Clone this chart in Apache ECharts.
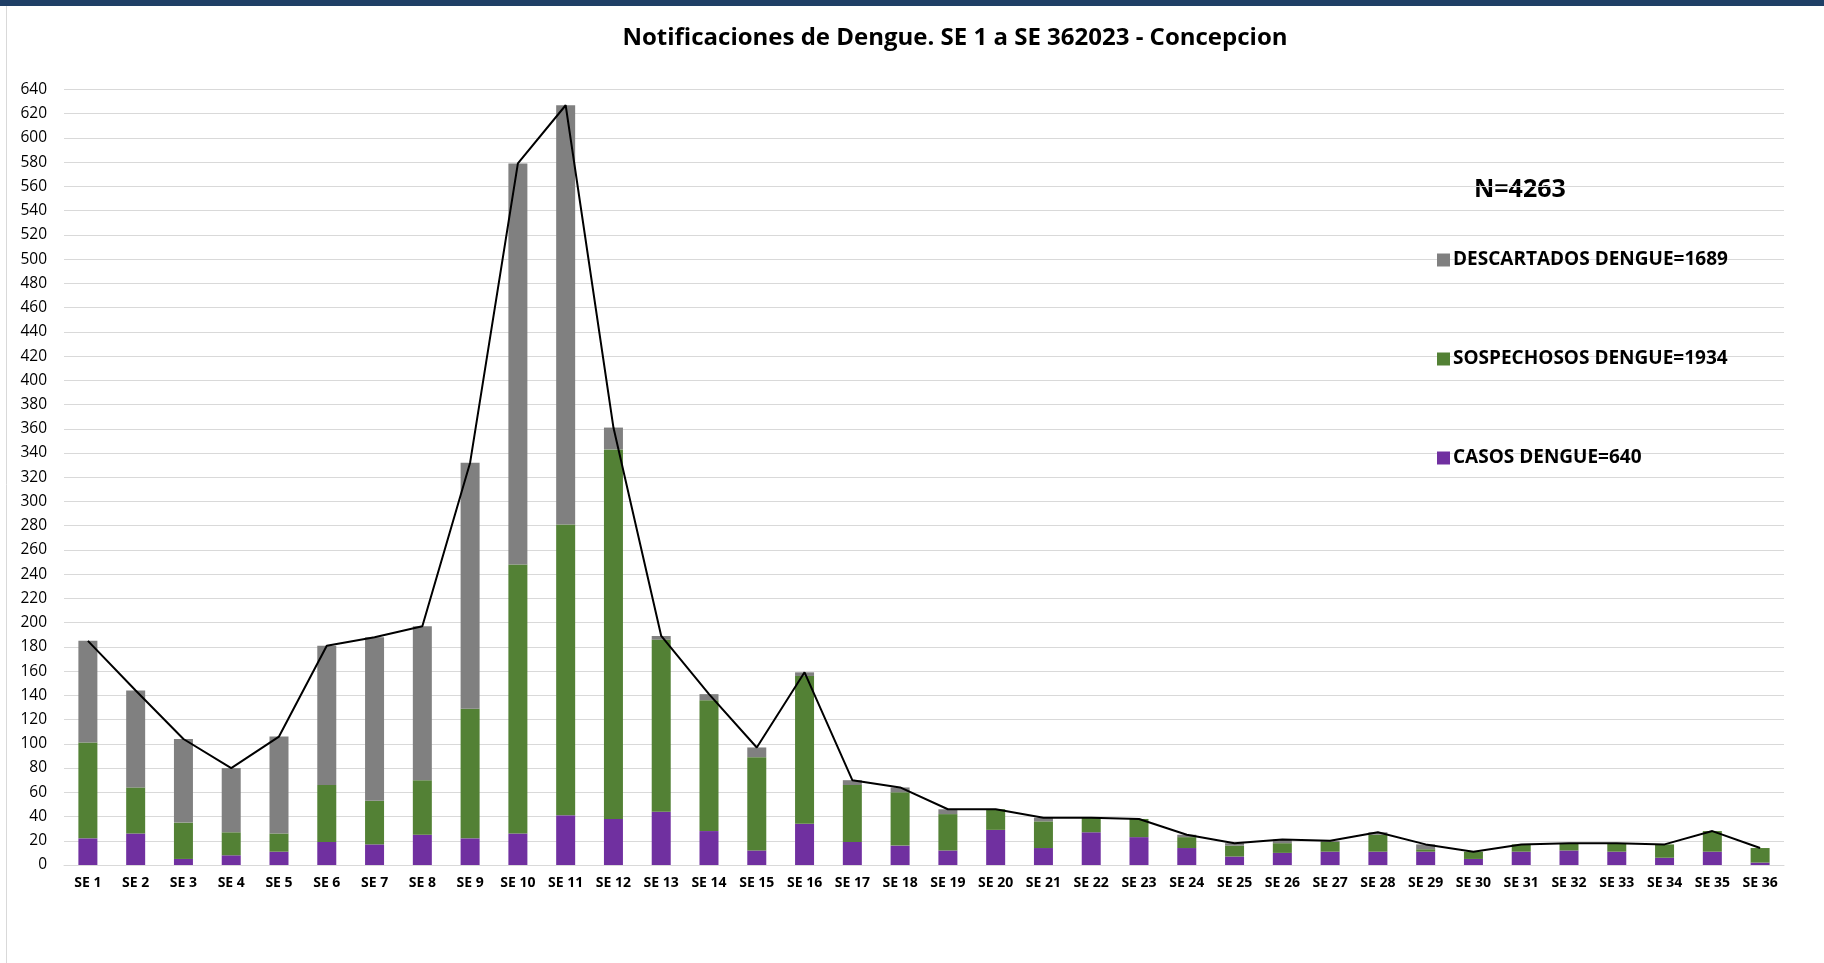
<!DOCTYPE html>
<html>
<head>
<meta charset="utf-8">
<script src="https://cdn.jsdelivr.net/npm/echarts@6/dist/echarts.min.js"></script>
<style>
  html, body { margin: 0; padding: 0; background: #ffffff; }
  #chart { width: 1824px; height: 963px; }
</style>
</head>
<body>
<div id="chart"></div>
<script>
const weeks = ['SE 1','SE 2','SE 3','SE 4','SE 5','SE 6','SE 7','SE 8','SE 9','SE 10','SE 11','SE 12',
  'SE 13','SE 14','SE 15','SE 16','SE 17','SE 18','SE 19','SE 20','SE 21','SE 22','SE 23','SE 24',
  'SE 25','SE 26','SE 27','SE 28','SE 29','SE 30','SE 31','SE 32','SE 33','SE 34','SE 35','SE 36']

const casos = [22, 26, 5, 8, 11, 19, 17, 25, 22, 26, 41, 38,
  44, 28, 12, 34, 19, 16, 12, 29, 14, 27, 23, 14,
  7, 10, 11, 11, 11, 5, 11, 12, 11, 6, 11, 2]

const sospechosos = [79, 38, 30, 19, 15, 47, 36, 45, 107, 222, 240, 305,
  142, 108, 77, 122, 47, 44, 30, 17, 22, 12, 15, 9,
  9, 8, 8, 14, 2, 6, 6, 6, 7, 11, 17, 12]

const descartados = [84, 80, 69, 53, 80, 115, 135, 127, 203, 331, 346, 18,
  3, 5, 8, 3, 4, 4, 4, 0, 3, 0, 0, 2,
  2, 3, 1, 2, 4, 0, 0, 0, 0, 0, 0, 0]

const totales = weeks.map((w, i) => casos[i] + sospechosos[i] + descartados[i])

const legendNames = ['DESCARTADOS DENGUE=1689', 'SOSPECHOSOS DENGUE=1934', 'CASOS DENGUE=640']
const yTicks = { min: 0, max: 640, interval: 20 }

const FONT = 'Open Sans'

const chart = echarts.init(document.getElementById('chart'))

const option = {
  backgroundColor: '#ffffff',
  animation: false,
  title: {
    text: 'Notificaciones de Dengue. SE 1 a SE 362023 - Concepcion',
    left: 950,
    textAlign: 'center',
    top: 21,
    textStyle: {
      fontFamily: FONT,
      fontWeight: 'bold',
      fontSize: 24,
      color: '#000000'
    }
  },
  legend: {
    data: legendNames,
    orient: 'vertical',
    left: 1432,
    top: 244,
    itemWidth: 13,
    itemHeight: 13,
    itemGap: 77,
    icon: 'rect',
    textStyle: {
      fontFamily: FONT,
      fontWeight: 'bold',
      fontSize: 19,
      lineHeight: 22,
      color: '#000000',
      padding: [0, 0, 0, -2]
    }
  },
  graphic: [
    { type: 'rect', shape: { x: 0, y: 0, width: 1824, height: 6 }, style: { fill: '#1f3f66' } },
    { type: 'line', shape: { x1: 6.5, y1: 6, x2: 6.5, y2: 963 }, style: { stroke: '#d9d9d9', lineWidth: 1 } },
    {
      type: 'text',
      left: 1474,
      top: 177,
      style: {
        text: 'N=4263',
        fontFamily: FONT,
        fontWeight: 'bold',
        fontSize: 25,
        fill: '#000000'
      }
    }
  ],
  grid: {
    left: 64,
    right: 40,
    top: 89.5,
    bottom: 98
  },
  xAxis: {
    type: 'category',
    data: weeks,
    axisTick: { show: false },
    axisLine: { lineStyle: { color: '#d9d9d9', width: 1 } },
    axisLabel: {
      interval: 0,
      margin: 11,
      fontFamily: FONT,
      fontWeight: 'bold',
      fontSize: 14,
      color: '#000000'
    }
  },
  yAxis: {
    type: 'value',
    min: yTicks.min,
    max: yTicks.max,
    interval: yTicks.interval,
    axisLine: { show: false },
    axisTick: { show: false },
    splitLine: { lineStyle: { color: '#d9d9d9', width: 1 } },
    axisLabel: {
      margin: 17,
      fontFamily: FONT,
      fontSize: 15.5,
      color: '#000000'
    }
  },
  series: [
    {
      name: 'CASOS DENGUE=640',
      type: 'bar',
      stack: 'total',
      barWidth: 19,
      data: casos,
      itemStyle: { color: '#7030a0' }
    },
    {
      name: 'SOSPECHOSOS DENGUE=1934',
      type: 'bar',
      stack: 'total',
      barWidth: 19,
      data: sospechosos,
      itemStyle: { color: '#538135' }
    },
    {
      name: 'DESCARTADOS DENGUE=1689',
      type: 'bar',
      stack: 'total',
      barWidth: 19,
      data: descartados,
      itemStyle: { color: '#808080' }
    },
    {
      name: 'TOTAL',
      type: 'line',
      data: totales,
      symbol: 'none',
      z: 5,
      lineStyle: { color: '#000000', width: 2 }
    }
  ]
}

chart.setOption(option)
</script>
</body>
</html>
